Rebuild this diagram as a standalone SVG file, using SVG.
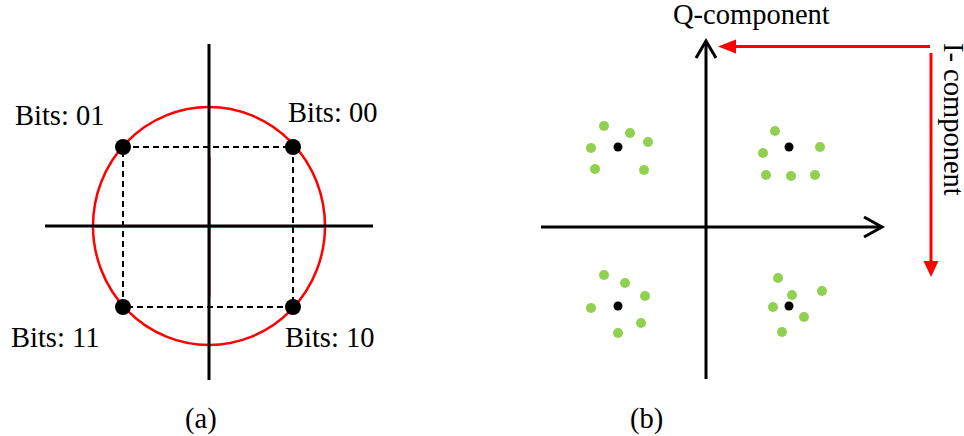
<svg xmlns="http://www.w3.org/2000/svg" width="964" height="436" viewBox="0 0 964 436">
<style>
text{font-family:"Liberation Serif","Times New Roman",serif;font-size:28.5px;fill:#000}
.ax{stroke:#000;stroke-width:3;fill:none}
.g{fill:#92d050}
.k{fill:#000}
</style>
<rect width="964" height="436" fill="#fff"/>
<g id="panel-a">
<g id="a-circle"><ellipse cx="209" cy="226" rx="116" ry="119" fill="none" stroke="#ff0000" stroke-width="2.5"/>
<line x1="210" y1="157" x2="210" y2="297" stroke="#e88080" stroke-width="2"/>
<line x1="93" y1="227" x2="325" y2="227" stroke="#e88080" stroke-width="2"/></g>
<g id="a-axes"><line class="ax" x1="45" y1="226" x2="373" y2="226"/><line class="ax" x1="209" y1="44" x2="209" y2="380"/></g>
<g id="a-square"><rect x="123" y="147" width="170" height="160" fill="none" stroke="#000" stroke-width="2" stroke-dasharray="6,4"/></g>
<g id="pt-01"><circle class="k" cx="123" cy="147" r="8"/><text x="15" y="125">Bits: 01</text></g>
<g id="pt-00"><circle class="k" cx="293" cy="147" r="8"/><text x="288" y="122">Bits: 00</text></g>
<g id="pt-11"><circle class="k" cx="123" cy="307" r="8"/><text x="11" y="347">Bits: 11</text></g>
<g id="pt-10"><circle class="k" cx="293" cy="307" r="8"/><text x="285" y="347">Bits: 10</text></g>
<text x="185" y="428">(a)</text>
</g>
<g id="panel-b">
<g id="b-axes">
<line class="ax" x1="541" y1="227" x2="882" y2="227"/>
<polyline class="ax" stroke-width="2" points="864,217 882,227 864,237"/>
<line class="ax" x1="706" y1="42" x2="706" y2="379"/>
<polyline class="ax" stroke-width="2" points="696,58 706,41 716,58"/>
</g>
<g id="connectors">
<line x1="930" y1="46.5" x2="735" y2="46.5" stroke="#ff0000" stroke-width="3"/>
<path d="M718,46.5 L736,39.5 L736,53.5 Z" fill="#ff0000"/>
<line x1="931" y1="53" x2="931" y2="262" stroke="#ff0000" stroke-width="3"/>
<path d="M931,277 L923.5,261 L938.5,261 Z" fill="#ff0000"/>
</g>
<text x="673" y="24">Q-component</text>
<text transform="translate(943.5,43) rotate(90)">I- component</text>
<g id="cluster-tl">
<circle class="g" cx="604" cy="126" r="5"/><circle class="g" cx="630" cy="133" r="5"/><circle class="g" cx="648" cy="142" r="5"/><circle class="g" cx="591" cy="148" r="5"/><circle class="g" cx="595" cy="169" r="5"/><circle class="g" cx="644" cy="170" r="5"/>
<circle class="k" cx="618" cy="147" r="4.5"/>
</g>
<g id="cluster-tr">
<circle class="g" cx="775" cy="131" r="5"/><circle class="g" cx="763" cy="153" r="5"/><circle class="g" cx="820" cy="147" r="5"/><circle class="g" cx="766" cy="175" r="5"/><circle class="g" cx="791" cy="176" r="5"/><circle class="g" cx="815" cy="175" r="5"/>
<circle class="k" cx="789" cy="147" r="4.5"/>
</g>
<g id="cluster-bl">
<circle class="g" cx="604" cy="275" r="5"/><circle class="g" cx="625" cy="283" r="5"/><circle class="g" cx="645" cy="296" r="5"/><circle class="g" cx="591" cy="308" r="5"/><circle class="g" cx="641" cy="323" r="5"/><circle class="g" cx="618" cy="333" r="5"/>
<circle class="k" cx="618" cy="306" r="4.5"/>
</g>
<g id="cluster-br">
<circle class="g" cx="778" cy="278" r="5"/><circle class="g" cx="792" cy="295" r="5"/><circle class="g" cx="822" cy="291" r="5"/><circle class="g" cx="773" cy="307" r="5"/><circle class="g" cx="804" cy="317" r="5"/><circle class="g" cx="782" cy="332" r="5"/>
<circle class="k" cx="789" cy="306" r="4.5"/>
</g>
<text x="630" y="428">(b)</text>
</g>
</svg>
